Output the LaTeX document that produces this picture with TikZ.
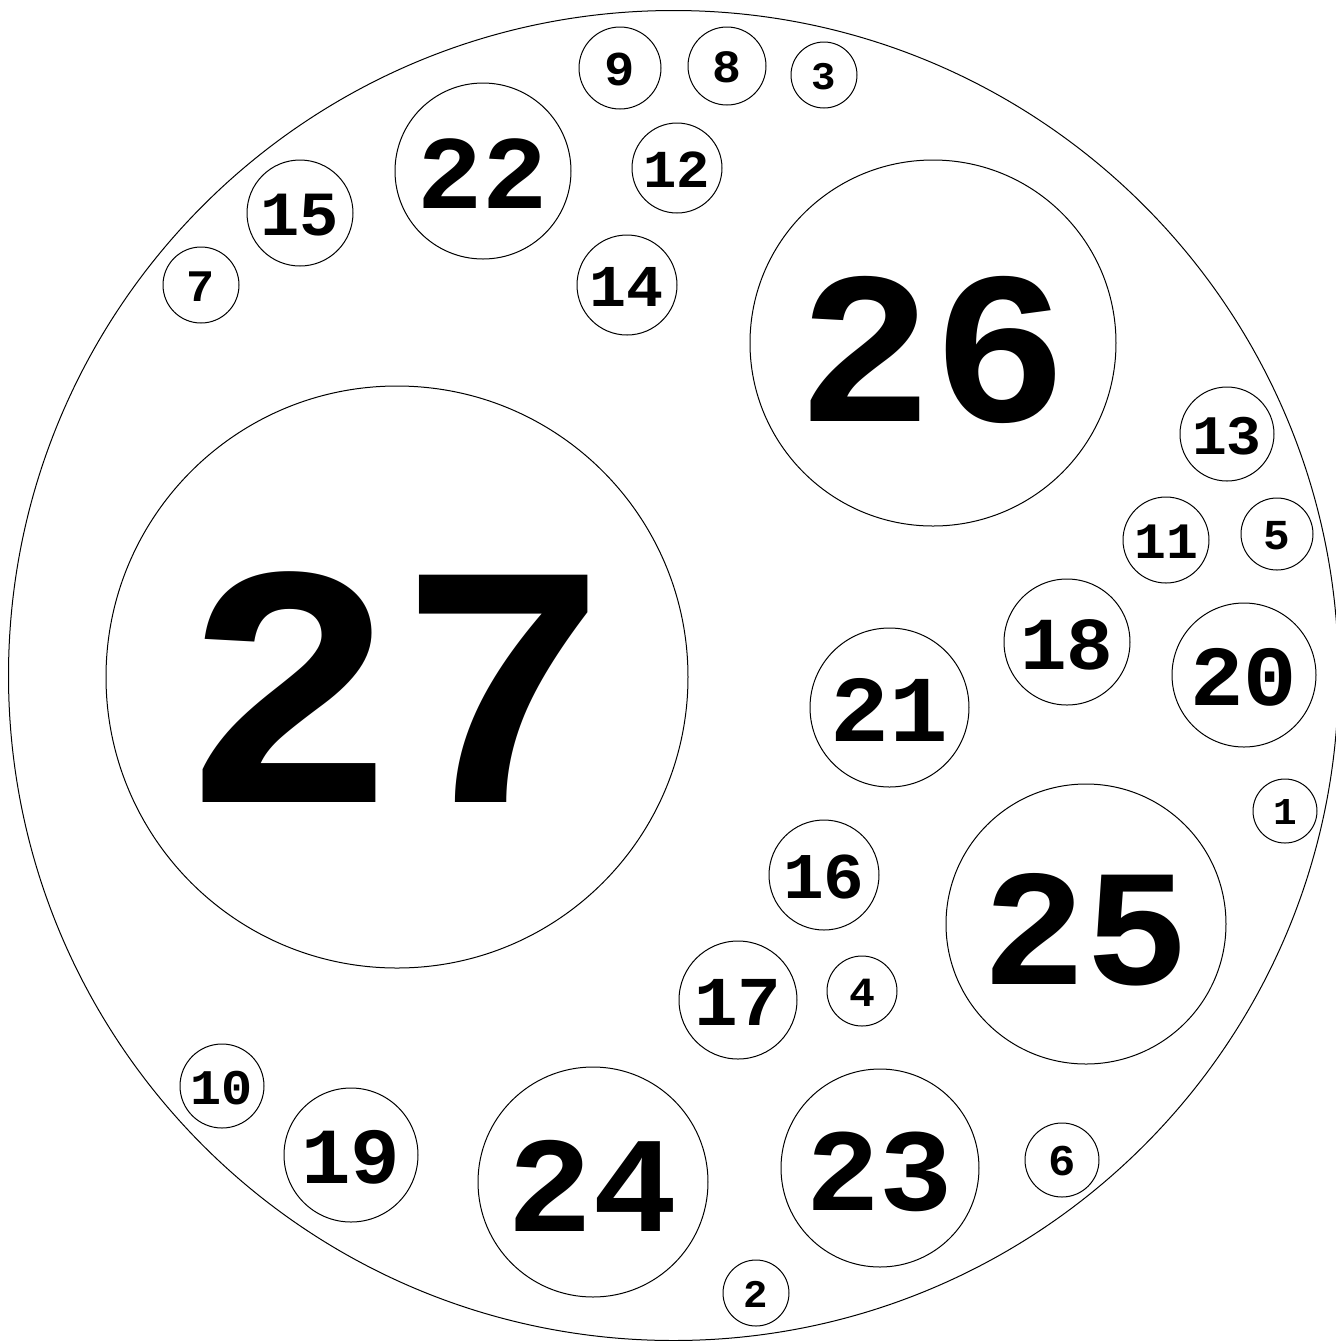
\documentclass[tikz,border=0pt]{standalone}
\usepackage{fontspec}
\newfontfamily\numfont[FakeStretch=1.04]{Liberation Mono}
\tikzset{
  bub/.style={circle, draw=black, line width=0.5pt, inner sep=0pt, outer sep=0pt, text depth=0pt, align=center},
  outerring/.style={circle, draw=black, line width=0.5pt, inner sep=0pt, outer sep=0pt}
}
\newcommand\bubble[5]{%
  \pgfmathsetmacro\fsz{0.593*#4}%
  \pgfmathsetmacro\thgt{0.43*#4}%
  \node[bub, minimum size=#4pt, text height=\thgt pt,
        font=\numfont\bfseries\fontsize{\fsz pt}{\fsz pt}\selectfont] (#1) at (#2,#3) {#5};%
}
\begin{document}
\begin{tikzpicture}[x=0.5pt, y=-0.5pt]
\useasboundingbox (0,0) rectangle (1336,1341);
\node[outerring, minimum size=665pt] (outer) at (673.5,675.5) {};
\bubble{n27}{397}{677}{291}{27}
\bubble{n26}{933}{343}{183}{26}
\bubble{n25}{1086}{924}{140}{25}
\bubble{n24}{593}{1182}{115}{24}
\bubble{n23}{880}{1168}{99}{23}
\bubble{n22}{483}{171}{88}{22}
\bubble{n21}{889.5}{707.5}{79.5}{21}
\bubble{n20}{1244}{675}{72}{20}
\bubble{n19}{351}{1155}{67}{19}
\bubble{n18}{1067}{642}{63}{18}
\bubble{n17}{738}{1000}{59}{17}
\bubble{n16}{824}{875}{55}{16}
\bubble{n15}{300}{213}{53}{15}
\bubble{n14}{627}{285}{50}{14}
\bubble{n13}{1227}{434}{47}{13}
\bubble{n12}{677}{168}{45}{12}
\bubble{n11}{1166}{540}{43}{11}
\bubble{n10}{222}{1086}{42}{10}
\bubble{n9}{620}{68}{41}{9}
\bubble{n8}{727}{66}{39}{8}
\bubble{n7}{201}{285}{38}{7}
\bubble{n6}{1062}{1160}{37}{6}
\bubble{n5}{1277}{534}{36}{5}
\bubble{n4}{862}{991}{35}{4}
\bubble{n3}{824}{75}{33}{3}
\bubble{n2}{756}{1293}{33}{2}
\bubble{n1}{1285}{811}{32}{1}
\end{tikzpicture}
\end{document}
